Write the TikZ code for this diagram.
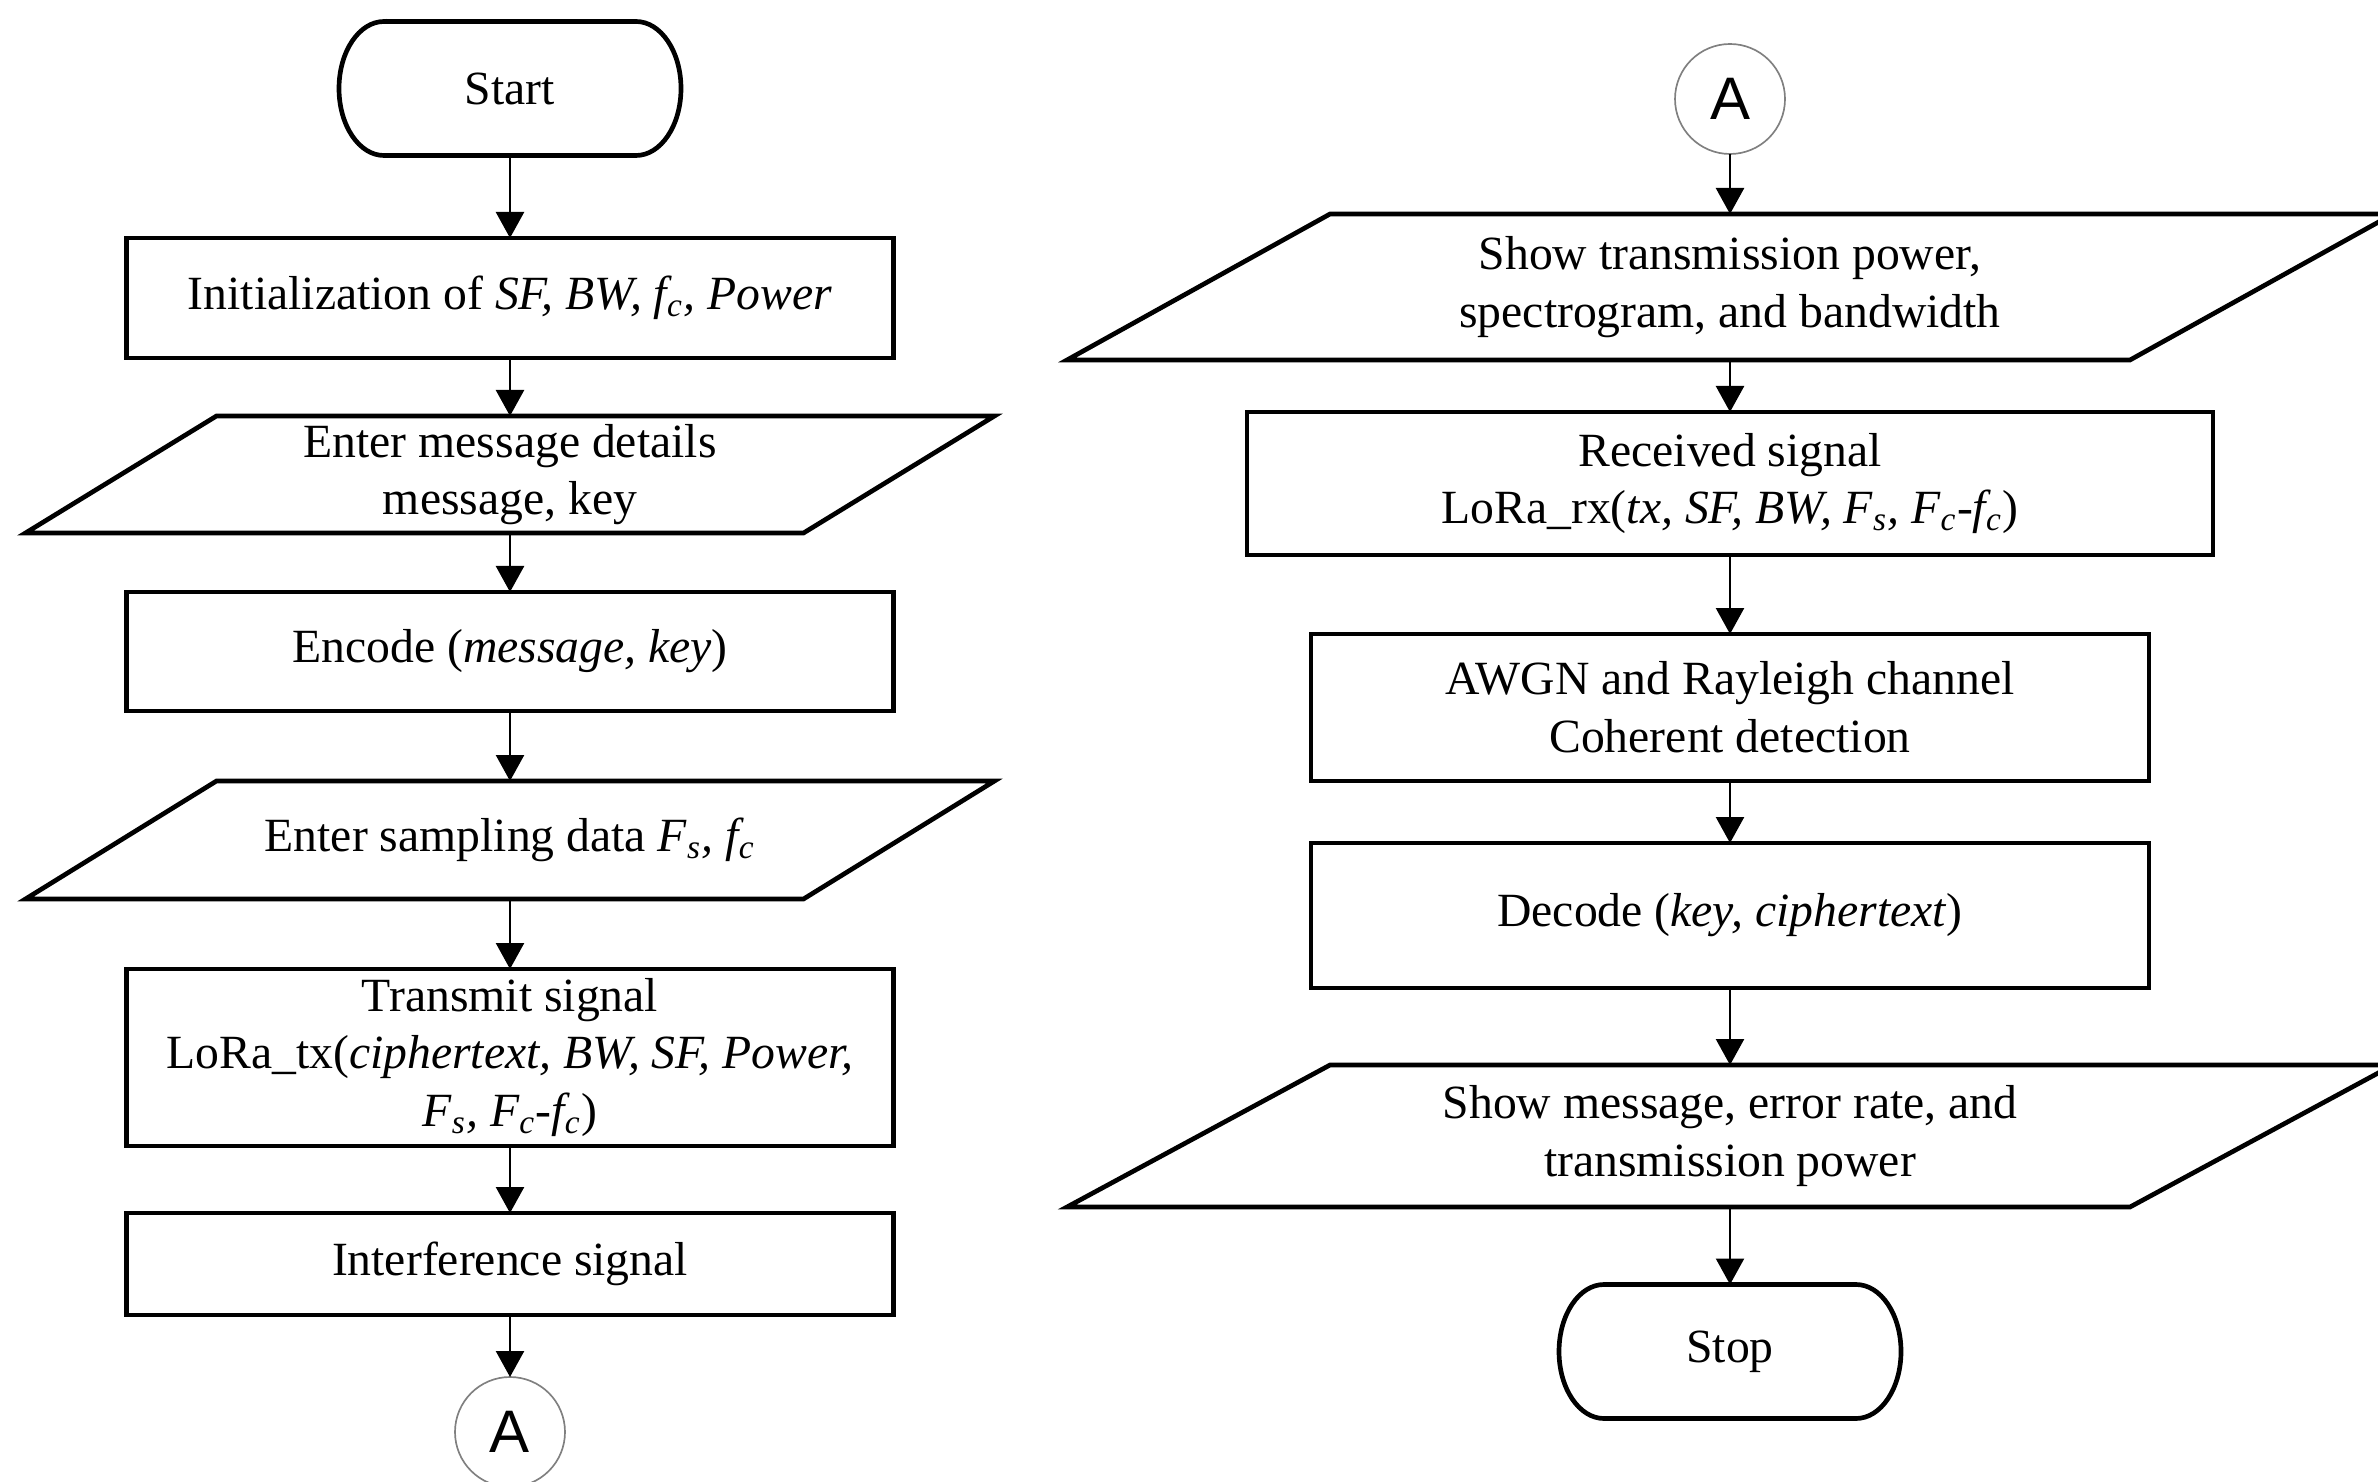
\documentclass[tikz,border=0pt]{standalone}
\usepackage{fontspec}
\setmainfont{Liberation Serif}
\newfontfamily\asans{Liberation Sans}
\usetikzlibrary{arrows.meta,calc}
\newcommand\paraout[2]{\draw[boxline] ($(#1.south west)+(-#2,0)$) -- ($(#1.south east)+(-#2,0)$) -- ($(#1.north east)+(#2,0)$) -- ($(#1.north west)+(#2,0)$) -- cycle;}
\newcommand\termout[1]{\draw[boxline] ($(#1.north west)+(45,0)$) -- ($(#1.north east)+(-45,0)$) arc[start angle=90,end angle=-90,x radius=13.5pt,y radius=20.1pt] -- ($(#1.south west)+(45,0)$) arc[start angle=270,end angle=90,x radius=13.5pt,y radius=20.1pt] -- cycle;}
\begin{document}
\begin{tikzpicture}[x=0.3pt,y=-0.3pt,
 every node/.style={font=\fontsize{14.3}{17.3}\selectfont, align=center, inner sep=0pt, outer sep=0pt},
 boxline/.style={line width=1.4pt, line join=miter},
 procbox/.style={draw, line width=1.4pt},
 term/.style={minimum width=102.6pt, minimum height=40.2pt},
 arr/.style={line width=0.75pt, -{Triangle[length=7.8pt,width=8.4pt]}},
 conn/.style={circle, draw=gray, line width=0.5pt, minimum size=33pt, font=\asans\fontsize{18}{20}\selectfont},
]
\useasboundingbox (0,0) rectangle (2378,1482);
% left column
\node[term] (start) at (510,88.5) {Start};
\termout{start}
\node[procbox, minimum width=230.1pt, minimum height=36pt] (init) at (510,298) {Initialization of \textit{SF, BW, f\textsubscript{c}, Power}};
\node[minimum width=233.4pt, minimum height=35.1pt] (msg) at (510,474.5) {Enter message details\\message, key};
\paraout{msg}{95.5}
\node[procbox, minimum width=230.1pt, minimum height=35.7pt] (enc) at (510,651.5) {Encode (\textit{message, key})};
\node[minimum width=233.4pt, minimum height=35.4pt] (samp) at (510,840) {Enter sampling data \textit{F\textsubscript{s}, f\textsubscript{c}}};
\paraout{samp}{95.5}
\node[procbox, minimum width=230.1pt, minimum height=53.1pt] (tx) at (510,1057.5) {Transmit signal\\LoRa\_tx(\textit{ciphertext, BW, SF, Power,}\\\textit{F\textsubscript{s}, F\textsubscript{c}-f\textsubscript{c}})};
\node[procbox, minimum width=230.1pt, minimum height=30.6pt] (intf) at (510,1264) {Interference signal};
\node[conn] (a1) at (510,1432) {A};
% right column
\node[conn] (a2) at (1730,99) {A};
\node[minimum width=318.9pt, minimum height=43.8pt] (show1) at (1730,287) {Show transmission power,\\spectrogram, and bandwidth};
\paraout{show1}{131.5}
\node[procbox, minimum width=289.8pt, minimum height=42.9pt] (rx) at (1730,483.5) {Received signal\\LoRa\_rx(\textit{tx, SF, BW, F\textsubscript{s}, F\textsubscript{c}-f\textsubscript{c}})};
\node[procbox, minimum width=251.4pt, minimum height=44.1pt] (awgn) at (1730,707.5) {AWGN and Rayleigh channel\\Coherent detection};
\node[procbox, minimum width=251.4pt, minimum height=43.5pt] (dec) at (1730,915.5) {Decode (\textit{key, ciphertext})};
\node[minimum width=318.9pt, minimum height=42.6pt] (show2) at (1730,1136) {Show message, error rate, and\\transmission power};
\paraout{show2}{131.5}
\node[term] (stop) at (1730,1351.5) {Stop};
\termout{stop}
% connectors
\draw[arr] (start) -- (init);
\draw[arr] (init) -- (msg);
\draw[arr] (msg) -- (enc);
\draw[arr] (enc) -- (samp);
\draw[arr] (samp) -- (tx);
\draw[arr] (tx) -- (intf);
\draw[arr] (intf) -- (a1);
\draw[arr] (a2) -- (show1);
\draw[arr] (show1) -- (rx);
\draw[arr] (rx) -- (awgn);
\draw[arr] (awgn) -- (dec);
\draw[arr] (dec) -- (show2);
\draw[arr] (show2) -- (stop);
\end{tikzpicture}
\end{document}
